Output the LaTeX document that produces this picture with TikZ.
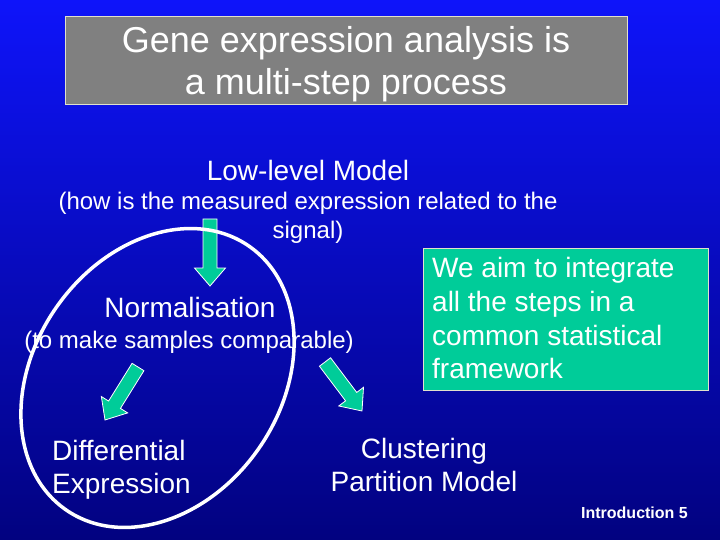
\documentclass[tikz,border=0pt]{standalone}
\usepackage{fontspec}
\setmainfont{Liberation Sans}
\usetikzlibrary{calc}
\definecolor{bgtop}{RGB}{14,20,250}
\definecolor{bgbot}{RGB}{2,2,128}
\definecolor{titlegray}{RGB}{128,128,128}
\definecolor{boxborder}{RGB}{225,225,205}
\definecolor{teal}{RGB}{0,204,153}
\tikzset{
  x=1pt, y=-1pt,
  txt/.style={text=white, inner sep=0pt, anchor=base},
  big/.style={txt, font=\fontsize{36}{43}\selectfont},
  mid/.style={txt, font=\fontsize{28}{34}\selectfont},
  small/.style={txt, font=\fontsize{24}{29}\selectfont},
  tiny/.style={txt, font=\bfseries\fontsize{16}{19}\selectfont},
  blockarrow/.style={fill=teal, draw=white, line width=0.8pt, line join=miter},
  ring/.style={draw=white, line width=3.5pt}
}
% #1 start coordinate, #2 end (tip) coordinate
\newcommand{\bigarrow}[2]{%
  \path[blockarrow] let \p1=(#1), \p2=(#2),
      \n1={atan2(\y2-\y1,\x2-\x1)}, \n2={veclen(\x2-\x1,\y2-\y1)} in
    [shift={(\p1)}, rotate=\n1, x=1pt, y=1pt]
    (0,-7) -- ({\n2-18},-7) -- ({\n2-18},-15.5) -- (\n2,0) -- ({\n2-18},15.5) -- ({\n2-18},7) -- (0,7) -- cycle;%
}
\begin{document}
\begin{tikzpicture}
\useasboundingbox (0,0) rectangle (720,540);
\shade[top color=bgtop, bottom color=bgbot] (0,0) rectangle (720,540);

% title
\node[draw=boxborder, fill=titlegray, line width=1pt, minimum width=562pt, minimum height=88pt, inner sep=0pt] (titlebox) at (346,61) {};
\node[big] (title1) at (346,53) {Gene expression analysis is};
\node[big] (title2) at (346,95) {a multi-step process};

% low-level model
\node[mid] (low) at (308,181) {Low-level Model};
\node[small] (low1) at (308,210) {(how is the measured expression related to the};
\node[small] (low2) at (308,238) {signal)};

% normalisation
\node[mid] (norm) at (190,317) {Normalisation};
\node[small] (norm1) at (189,348) {(to make samples comparable)};

% differential expression
\node[mid, anchor=base west] (diff1) at (52,460) {Differential};
\node[mid, anchor=base west] (diff2) at (52,493) {Expression};

% clustering
\node[mid] (clus1) at (424,458) {Clustering};
\node[mid] (clus2) at (424,491) {Partition Model};

% green box
\node[draw=boxborder, fill=teal, line width=1pt, minimum width=285pt, minimum height=142pt, inner sep=0pt] (aimbox) at (566,319) {};
\node[mid, anchor=base west] (aim1) at (432,277) {We aim to integrate};
\node[mid, anchor=base west] (aim2) at (432,311) {all the steps in a};
\node[mid, anchor=base west] (aim3) at (432,345) {common statistical};
\node[mid, anchor=base west] (aim4) at (432,378) {framework};

% footer
\node[tiny, anchor=base east] (footer) at (688,518) {Introduction 5};

% block arrows
\coordinate (a1s) at (210,219);
\coordinate (a1e) at (210,286);
\coordinate (a2s) at (138,367);
\coordinate (a2e) at (105,420);
\coordinate (a3s) at (325,362);
\coordinate (a3e) at (362,411);
\bigarrow{a1s}{a1e}
\bigarrow{a2s}{a2e}
\bigarrow{a3s}{a3e}

% ellipse
\draw[ring, rotate around={55.2:(157.5,378)}] (157.5,378) ellipse [x radius=160.5, y radius=123.4];
\end{tikzpicture}
\end{document}
